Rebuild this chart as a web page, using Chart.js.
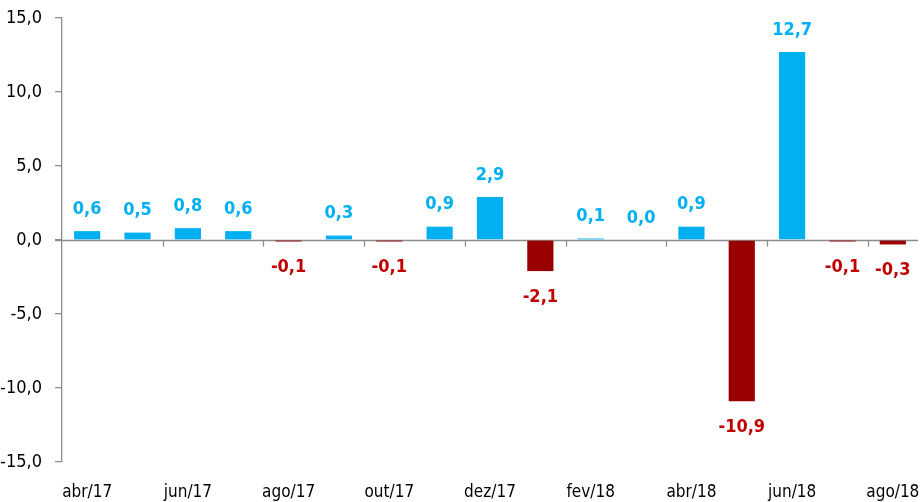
<!DOCTYPE html>
<html>
<head>
<meta charset="utf-8">
<script src="https://cdn.jsdelivr.net/npm/chart.js@4/dist/chart.umd.min.js"></script>
<style>
html,body{margin:0;padding:0;background:#fff;}
#wrap{width:920px;height:502px;position:relative;}
</style>
</head>
<body>
<div id="wrap"><canvas id="c" width="920" height="502"></canvas></div>
<script>
const categories = ["abr/17","mai/17","jun/17","jul/17","ago/17","set/17","out/17","nov/17","dez/17","jan/18","fev/18","mar/18","abr/18","mai/18","jun/18","jul/18","ago/18"];
const values = [0.6,0.5,0.8,0.6,-0.1,0.3,-0.1,0.9,2.9,-2.1,0.1,0.0,0.9,-10.9,12.7,-0.1,-0.3];
const yTicks = [-15,-10,-5,0,5,10,15];

const FONT = "'DejaVu Sans Condensed','Liberation Sans Narrow',sans-serif";
const BLUE = "#00B0F0", RED_BAR = "#990000", RED_TXT = "#C00000", AXIS = "#8c8c8c";
const fmt = v => v.toFixed(1).replace('.', ',');

const zeroLine = {
  id: 'zeroLine',
  beforeDatasetsDraw(chart) {
    const {ctx, scales:{x, y}, chartArea} = chart;
    const y0 = Math.round(y.getPixelForValue(0)) + 0.5;
    ctx.save();
    ctx.strokeStyle = AXIS; ctx.lineWidth = 1.3;
    ctx.beginPath();
    ctx.moveTo(chartArea.left - 7, y0); ctx.lineTo(chartArea.right, y0);
    const w = (chartArea.right - chartArea.left) / categories.length;
    for (let k = 2; k < categories.length; k += 2) {
      const xx = Math.round(chartArea.left + k * w) + 0.5;
      ctx.moveTo(xx, y0); ctx.lineTo(xx, y0 + 6);
    }
    ctx.stroke();
    ctx.restore();
  }
};

const labels = {
  id: 'labels',
  afterDatasetsDraw(chart) {
    const {ctx} = chart;
    const meta = chart.getDatasetMeta(0);
    ctx.save();
    ctx.font = "bold 18px " + FONT;
    ctx.textAlign = 'center'; ctx.textBaseline = 'middle';
    meta.data.forEach((bar, i) => {
      const v = values[i];
      if (v >= 0) { ctx.fillStyle = BLUE; ctx.fillText(fmt(v), bar.x, bar.y - 22); }
      else { ctx.fillStyle = RED_TXT; ctx.fillText(fmt(v), bar.x, bar.y + 26); }
    });
    ctx.restore();
  }
};

new Chart(document.getElementById('c'), {
  type: 'bar',
  data: {
    labels: categories,
    datasets: [{
      data: values,
      backgroundColor: values.map(v => v >= 0 ? BLUE : RED_BAR),
      barPercentage: 0.52,
      categoryPercentage: 1
    }]
  },
  options: {
    responsive: false,
    animation: false,
    layout: {padding: {top: 18, right: 2, left: 0, bottom: 0}},
    plugins: {legend: {display: false}, tooltip: {enabled: false}},
    scales: {
      x: {
        grid: {display: false, drawTicks: false, tickLength: 0},
        border: {display: false},
        afterFit: s => { s.height = 40; s.paddingLeft = 0; s.paddingRight = 0; },
        ticks: {
          autoSkip: false, maxRotation: 0, padding: 22,
          color: '#000', font: {family: FONT, size: 17, lineHeight: '18px'},
          callback: (val, i) => i % 2 === 0 ? categories[i] : ''
        }
      },
      y: {
        min: -15, max: 15,
        afterBuildTicks: s => { s.ticks = yTicks.map(v => ({value: v})); },
        afterFit: s => { s.width = 62; s.paddingTop = 0; s.paddingBottom = 0; },
        grid: {drawOnChartArea: false, drawTicks: true, tickLength: 7, color: AXIS, lineWidth: 1.3},
        border: {display: true, color: AXIS, width: 1.3},
        ticks: {color: '#000', padding: 13, font: {family: FONT, size: 18}, callback: v => fmt(v)}
      }
    }
  },
  plugins: [zeroLine, labels]
});
</script>
</body>
</html>
